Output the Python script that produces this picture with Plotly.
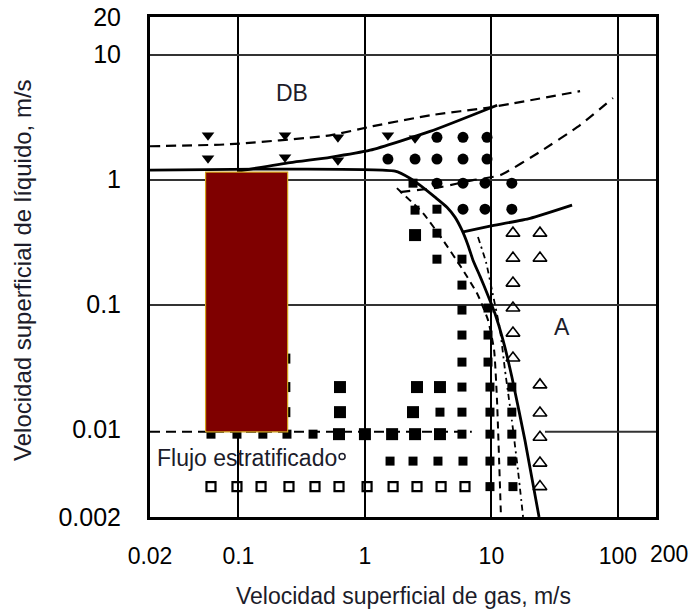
import math
import plotly.graph_objects as go

# ---------------- axes ----------------
x_ticks = [0.02, 0.1, 1, 10, 100]
x_tick_text = ["0.02", "0.1", "1", "10", "100"]
x_end_label = "200"
x_end_value = 200
y_ticks = [0.002, 0.01, 0.1, 1, 10, 20]
y_tick_text = ["0.002", "0.01", "0.1", "1", "10", "20"]
x_grid = [0.1, 1, 10, 100]
y_grid = [0.1, 1, 10]
x_range = [0.02, 200]
y_range = [0.002, 20]

# ---------------- boundary lines ----------------
solidA_x = [0.02, 1.73, 2.27, 2.72, 3.58, 4.45, 5.15, 5.85, 6.53, 7.15, 8.12, 9.22, 10.67, 12.35, 14.5, 18.4, 23.8]
solidA_y = [1.19, 1.17, 1.027, 0.903, 0.724, 0.602, 0.501, 0.394, 0.299, 0.227, 0.169, 0.124, 0.0848, 0.052, 0.0265, 0.00824, 0.002]

solidB_x = [0.1, 0.256, 0.53, 1.10, 3.27, 11.1]
solidB_y = [1.17, 1.37, 1.51, 1.72, 2.43, 3.94]

solidC_x = [5.85, 9.75, 20.2, 43.4]
solidC_y = [0.38, 0.424, 0.49, 0.625]

dashD_x = [0.02, 0.0857, 0.53, 1.16, 3.27, 9.75, 50.2]
dashD_y = [1.85, 1.92, 2.26, 2.68, 3.27, 3.79, 5.10]

dashE_x = [1.89, 3.92, 7.15, 11.7, 24.2, 50.2, 91.4]
dashE_y = [0.794, 0.87, 0.99, 1.085, 1.67, 2.73, 4.5]

dashG_x = [1.79, 2.88, 4.14, 5.96, 7.83, 9.4, 10.5, 11.07, 11.5, 11.9]
dashG_y = [0.855, 0.539, 0.328, 0.189, 0.119, 0.0752, 0.0433, 0.01725, 0.00572, 0.002]

dashH_x = [7.83, 9.06, 10.1, 11.7, 12.8, 14.5, 16.2, 17.8]
dashH_y = [0.347, 0.219, 0.1307, 0.0626, 0.030, 0.0119, 0.00476, 0.002]

low_dash_x = [0.02, 7.0]
low_dash_y = [0.0096, 0.0096]
low_solid_x = [26.5, 200]
low_solid_y = [0.0096, 0.0096]

# ---------------- highlighted region ----------------
rect_x = [0.055, 0.245, 0.245, 0.055, 0.055]
rect_y = [0.0096, 0.0096, 1.15, 1.15, 0.0096]

# ---------------- data points ----------------
tri_down_x = [0.0575, 0.0575, 0.2335, 0.2335, 0.612, 0.612, 1.52, 2.49]
tri_down_y = [2.27, 1.48, 2.27, 1.51, 2.18, 1.43, 2.27, 2.14]

dot_x = [3.71, 5.96, 9.23, 1.52, 2.49, 3.71, 5.96, 9.23, 3.71, 5.96, 8.9, 14.5, 5.96, 8.9, 14.5]
dot_y = [2.18, 2.18, 2.18, 1.46, 1.46, 1.46, 1.46, 1.46, 0.937, 0.937, 0.937, 0.937, 0.58, 0.58, 0.58]

sq_x = [2.40, 2.49, 3.71, 3.71, 3.71, 5.85, 5.85, 5.85, 9.4, 5.85, 9.4, 5.85, 9.4,
        5.85, 9.74, 14.5,
        3.92, 5.85, 9.74, 14.5,
        0.0607, 0.0974, 0.156, 0.242, 0.389, 5.85, 9.74, 14.5,
        1.58, 2.40, 3.78, 5.96, 9.74, 14.5,
        9.74, 14.8]
sq_y = [0.937, 0.57, 0.58, 0.373, 0.231, 0.231, 0.1433, 0.0905, 0.0939, 0.0571, 0.0571, 0.0347, 0.0347,
        0.0219, 0.0219, 0.0219,
        0.0138, 0.0138, 0.0138, 0.0138,
        0.0092, 0.0092, 0.0092, 0.0092, 0.0092, 0.0092, 0.0092, 0.0092,
        0.0056, 0.0056, 0.0056, 0.0056, 0.0056, 0.0056,
        0.0035, 0.0035]

big_sq_x = [2.49, 0.635, 2.58, 3.92, 0.635, 2.40, 0.624, 1.0, 1.64, 2.49, 3.92]
big_sq_y = [0.36, 0.0219, 0.0219, 0.0219, 0.0138, 0.0138, 0.0092, 0.0092, 0.0092, 0.0092, 0.0092]

hidden_sq_x = [0.235, 0.235, 0.235]
hidden_sq_y = [0.037, 0.0219, 0.0138]

open_sq_x = [0.0607, 0.0974, 0.151, 0.251, 0.403, 0.624, 1.04, 1.67, 2.58, 4.0, 6.18]
open_sq_y = [0.0035] * 11

open_tri_x = [14.8, 24.2, 14.8, 24.2, 14.8, 14.8, 14.8, 14.8, 24.2, 24.2, 24.2, 24.2, 24.2]
open_tri_y = [0.373, 0.373, 0.2355, 0.2355, 0.1487, 0.0939, 0.0592, 0.0374, 0.0228, 0.0136, 0.0087, 0.0054, 0.0035]

small_circle_x = [0.66]
small_circle_y = [0.0061]

# ---------------- labels ----------------
region_labels = ["DB", "A", "Flujo estratificado"]
region_x = [0.265, 36.1, 0.117]
region_y = [4.91, 0.0659, 0.0059]
x_title = "Velocidad superficial de gas, m/s"
y_title = "Velocidad superficial de líquido, m/s"

FONT = "Liberation Sans, Arial, sans-serif"
TXT = "#1c1c2a"

fig = go.Figure()


def add_line(xs, ys, width=2.5, dash="solid", color="black", smooth=True):
    line = dict(color=color, width=width, dash=dash)
    if smooth:
        line.update(shape="spline", smoothing=0.5)
    fig.add_trace(go.Scatter(x=xs, y=ys, mode="lines", line=line,
                             hoverinfo="skip", showlegend=False))


add_line(low_dash_x, low_dash_y, 2, "10px,6px", smooth=False)
add_line(low_solid_x, low_solid_y, 2, "solid", "#333", smooth=False)
add_line(dashG_x, dashG_y, 2, "7px,5px")
add_line(dashH_x, dashH_y, 1.8, "6px,4px,2px,4px")
add_line(dashD_x, dashD_y, 2.2, "10px,6px")
add_line(dashE_x, dashE_y, 2.2, "10px,7px")
add_line(solidA_x, solidA_y, 2.8)
add_line(solidB_x, solidB_y, 2.8)
add_line(solidC_x, solidC_y, 2.8)


def add_markers(xs, ys, symbol, size, lw=0, color="black"):
    fig.add_trace(go.Scatter(x=xs, y=ys, mode="markers",
                             marker=dict(symbol=symbol, size=size, color=color,
                                         line=dict(color=color, width=lw)),
                             hoverinfo="skip", showlegend=False))


add_markers(hidden_sq_x, hidden_sq_y, "square", 10)
add_markers(tri_down_x, tri_down_y, "triangle-down", 11)
add_markers(dot_x, dot_y, "circle", 11)
add_markers(sq_x, sq_y, "square", 9)
add_markers(big_sq_x, big_sq_y, "square", 12)
add_markers(open_sq_x, open_sq_y, "square-open", 9, 2.2)
add_markers(open_tri_x, open_tri_y, "triangle-up-open", 12, 1.6)
add_markers(small_circle_x, small_circle_y, "circle-open", 6, 1.5, TXT)

fig.add_trace(go.Scatter(x=rect_x, y=rect_y, mode="lines", fill="toself",
                         fillcolor="#7f0000", line=dict(color="#d4a21c", width=1.2),
                         hoverinfo="skip", showlegend=False))

for lab, lx, ly in zip(region_labels, region_x, region_y):
    fig.add_annotation(x=math.log10(lx), y=math.log10(ly), text=lab, showarrow=False,
                       font=dict(family=FONT, size=23, color=TXT))

# end-of-axis label, set slightly right of the frame as in the original
fig.add_annotation(x=math.log10(x_end_value), xref="x", y=-0.073, yref="paper", text=x_end_label,
                   showarrow=False, xanchor="center", yanchor="middle", xshift=13,
                   font=dict(family=FONT, size=23, color="black"))

fig.add_annotation(xref="paper", yref="paper", x=0.5, y=-0.158, text=x_title, showarrow=False,
                   yanchor="middle", font=dict(family=FONT, size=23, color=TXT))
fig.add_annotation(xref="paper", yref="paper", x=-0.253, y=0.494, text=y_title, showarrow=False,
                   textangle=-90, xanchor="center", yanchor="middle",
                   font=dict(family=FONT, size=24, color=TXT))

axis_common = dict(type="log", showgrid=False, zeroline=False, showline=True, mirror=True,
                   linecolor="black", linewidth=3, ticks="", automargin=False)

fig.update_layout(
    width=696, height=610,
    margin=dict(l=150, r=40, t=17, b=93, autoexpand=False),
    plot_bgcolor="white", paper_bgcolor="white",
    showlegend=False,
    xaxis=dict(range=[math.log10(x_range[0]), math.log10(x_range[1])],
               tickmode="array", tickvals=x_ticks, ticktext=x_tick_text,
               tickangle=0, ticklabelstandoff=16,
               tickfont=dict(family=FONT, size=23, color="black"),
               minor=dict(tickmode="array", tickvals=x_grid, showgrid=True,
                          gridcolor="black", gridwidth=2.2, ticks=""),
               **axis_common),
    yaxis=dict(range=[math.log10(y_range[0]), math.log10(y_range[1])],
               tickmode="array", tickvals=y_ticks, ticktext=y_tick_text,
               ticklabelstandoff=21,
               tickfont=dict(family=FONT, size=25, color="black"),
               minor=dict(tickmode="array", tickvals=y_grid, showgrid=True,
                          gridcolor="#333", gridwidth=1.8, ticks=""),
               **axis_common),
)

fig.write_html("out.html")
